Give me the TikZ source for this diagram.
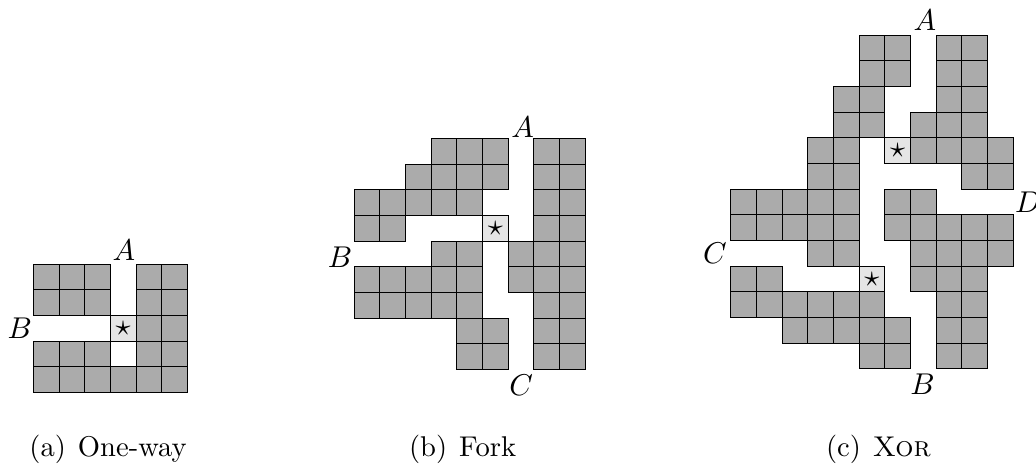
\documentclass[tikz,border=0pt]{standalone}
\begin{document}
\begin{tikzpicture}[x=0.3cm, y=0.3cm]
        \tikzstyle{cellbox} = [draw=black, line width=0.35pt, fill=black!33]
        \tikzstyle{starbox} = [draw=black, line width=0.35pt, fill=black!10]
        \tikzstyle{caption} = [anchor=base, font=\fontsize{9.5}{11}\selectfont]

        \useasboundingbox (0,0) rectangle (40.36,18.15);

        % one-way gadget
        \begin{scope}[shift={(1.30,2.855)}]
            \foreach \y/\cols in {4/{0,1,2,4,5}, 3/{0,1,2,4,5}, 2/{4,5}, 1/{0,1,2,4,5}, 0/{0,1,2,3,4,5}}
                \foreach \x in \cols
                    \draw[cellbox] (\x,\y) rectangle +(1,1);
            \draw[starbox] (3,2) rectangle +(1,1);
            \node (staronew) at (3.5,2.5) {$\star$};
            \node (aonew) at (3.53,5.56) {$A$};
            \node (bonew) at (-0.53,2.5) {$B$};
        \end{scope}

        % fork gadget
        \begin{scope}[shift={(13.80,3.75)}]
            \foreach \y/\cols in {8/{3,4,5,7,8}, 7/{2,3,4,5,7,8}, 6/{0,1,2,3,4,7,8}, 5/{0,1,7,8}, 4/{3,4,6,7,8},
                                  3/{0,1,2,3,4,6,7,8}, 2/{0,1,2,3,4,7,8}, 1/{4,5,7,8}, 0/{4,5,7,8}}
                \foreach \x in \cols
                    \draw[cellbox] (\x,\y) rectangle +(1,1);
            \draw[starbox] (5,5) rectangle +(1,1);
            \node (starfork) at (5.5,5.5) {$\star$};
            \node (afork) at (6.56,9.45) {$A$};
            \node (bfork) at (-0.55,4.38) {$B$};
            \node (cfork) at (6.50,-0.61) {$C$};
        \end{scope}

        % xor gadget
        \begin{scope}[shift={(28.47,3.78)}]
            \foreach \y/\cols in {12/{5,6,8,9}, 11/{5,6,8,9}, 10/{4,5,8,9}, 9/{4,5,7,8,9}, 8/{3,4,7,8,9,10}, 7/{3,4,9,10},
                                  6/{0,1,2,3,4,6,7}, 5/{0,1,2,3,4,6,7,8,9,10}, 4/{3,4,7,8,9,10}, 3/{0,1,7,8,9},
                                  2/{0,1,2,3,4,5,8,9}, 1/{2,3,4,5,6,8,9}, 0/{5,6,8,9}}
                \foreach \x in \cols
                    \draw[cellbox] (\x,\y) rectangle +(1,1);
            \draw[starbox] (6,8) rectangle +(1,1);
            \draw[starbox] (5,3) rectangle +(1,1);
            \node (staraxor) at (6.5,8.5) {$\star$};
            \node (starbxor) at (5.5,3.5) {$\star$};
            \node (axor) at (7.56,13.57) {$A$};
            \node (bxor) at (7.47,-0.61) {$B$};
            \node (cxor) at (-0.62,4.50) {$C$};
            \node (dxor) at (11.58,6.49) {$D$};
        \end{scope}

        \node (capa) [caption] at (4.21,0.36) {(a)\hspace{4pt}One-way};
        \node (capb) [caption] at (18.02,0.36) {(b)\hspace{4pt}Fork};
        \node (capc) [caption] at (34.22,0.36) {(c)\hspace{4pt}\textsc{Xor}};
    \end{tikzpicture}
\end{document}
